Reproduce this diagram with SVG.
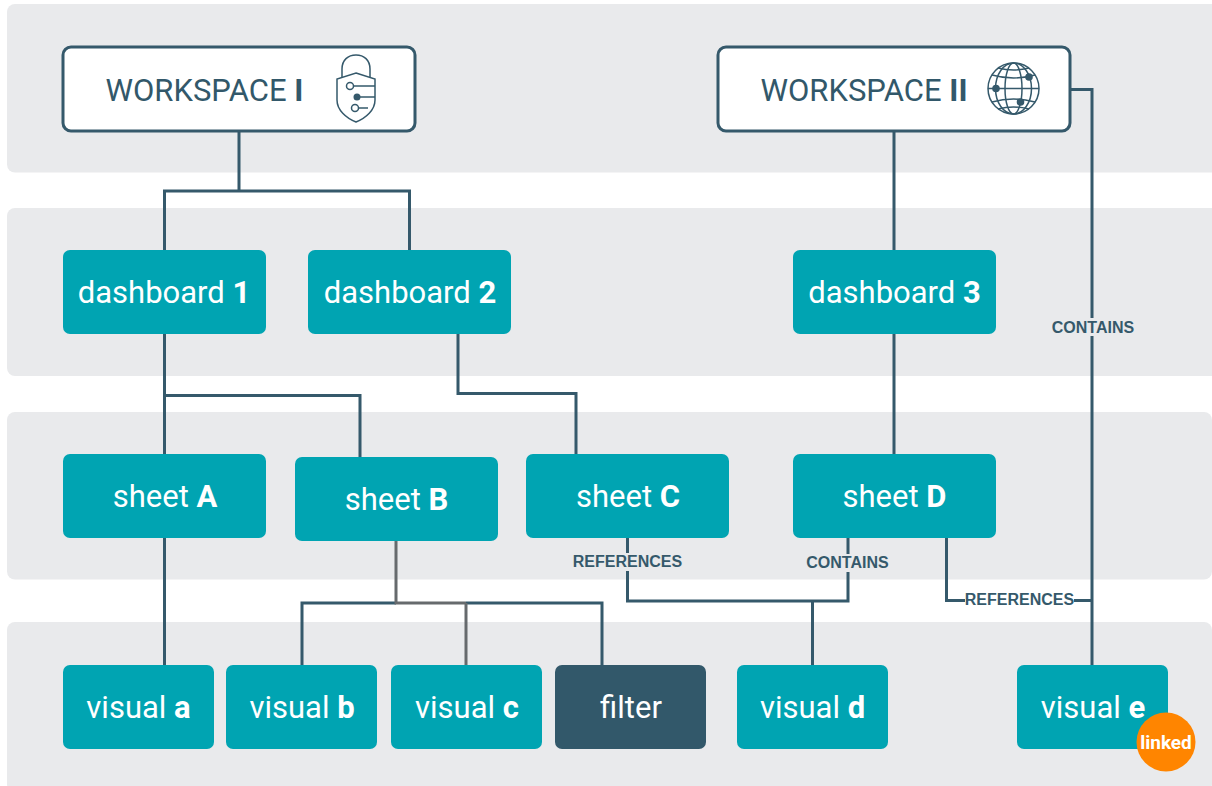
<svg xmlns="http://www.w3.org/2000/svg" width="1212" height="786" viewBox="0 0 1212 786">
<style>
.band{fill:#e9eaec}
.n{fill:#00a4b2}
.f{fill:#32586a}
.t{font-family:Roboto,"Liberation Sans",sans-serif;font-size:31px;fill:#fff;text-anchor:middle}
.t tspan,.w tspan{font-weight:700}
.w{font-family:Roboto,"Liberation Sans",sans-serif;font-size:31px;fill:#32586a}
.box{fill:#fff;stroke:#35596b;stroke-width:3}
.c{fill:none;stroke:#35596b;stroke-width:3}
.g{fill:none;stroke:#666a6d;stroke-width:3}
.l{font-family:"Liberation Sans",Arial,sans-serif;font-size:16px;font-weight:700;fill:#35596b;text-anchor:middle}
.i{fill:none;stroke:#35596b;stroke-width:1.500}
.d{fill:#35596b}
</style>
<rect width="1212" height="786" fill="#fff"/>
<g id="bands">
<rect class="band" x="7" y="4" width="1215" height="168.500" rx="8"/>
<rect class="band" x="7" y="208" width="1215" height="168" rx="8"/>
<rect class="band" x="7" y="412" width="1205" height="167.500" rx="8"/>
<rect class="band" x="7" y="622" width="1205" height="170" rx="8"/>
</g>
<g id="connectors">
<path class="c" d="M239 131V191M164.500 250V191H409.500V250"/>
<path class="c" d="M894 131V250M894 333V454"/>
<path class="c" d="M1071 89.500H1092V665"/>
<path class="c" d="M164.500 333V454M164.500 395.500H360V457"/>
<path class="c" d="M458 333V393.500H576V454"/>
<path class="c" d="M164.500 537V665"/>
<path class="c" d="M302 665V603H396M466 603H602V665"/>
<path class="g" d="M396 541V603H466" stroke-width="4"/>
<path class="g" d="M466 603V665"/>
<path class="c" d="M627.500 537V601H848V537M812.500 601V665"/>
<path class="c" d="M946.500 537V600.500H1092"/>
<rect class="band" x="1052" y="318" width="82" height="18"/>
<text class="l" x="1093" y="332.500">CONTAINS</text>
<rect class="band" x="573" y="553" width="109" height="18"/>
<text class="l" x="627.500" y="566.700">REFERENCES</text>
<rect class="band" x="807" y="554" width="82" height="18"/>
<text class="l" x="847.500" y="568">CONTAINS</text>
<rect x="965" y="590" width="109" height="18" fill="#fff"/>
<text class="l" x="1019.500" y="604.500">REFERENCES</text>
</g>
<g id="workspace1">
<rect class="box" x="63" y="47" width="352" height="84" rx="8"/>
<text class="w" x="105.500" y="101">WORKSPACE <tspan>I</tspan></text>
<path class="i" d="M342 77V69C342 60 348 55 356 55S370 60 370 69V77"/>
<path class="i" d="M356 73L375 79V100C375 110 366 118 356 122C346 118 337 110 337 100V79Z"/>
<path class="i" d="M353.500 86H375M357 97H375M358.500 108H368"/>
<circle class="i" cx="350" cy="86" r="3.500"/>
<circle class="d" cx="357" cy="97" r="3.500"/>
<circle class="i" cx="355" cy="108" r="3.500"/>
</g>
<g id="workspace2">
<rect class="box" x="718" y="47" width="352" height="84" rx="8"/>
<text class="w" x="760.500" y="101">WORKSPACE <tspan>II</tspan></text>
<circle class="i" cx="1013.500" cy="88.500" r="25.500"/>
<ellipse class="i" cx="1013.500" cy="88.500" rx="8.500" ry="25.500"/>
<ellipse class="i" cx="1013.500" cy="88.500" rx="18" ry="25.500"/>
<path class="i" d="M988 88.500H1039M992 75Q1013.500 81 1035 75M992 102Q1013.500 96 1035 102M998 68Q1013.500 72 1029 68M998 109Q1013.500 105 1029 109"/>
<circle class="d" cx="996" cy="88.500" r="3.800"/>
<circle class="d" cx="1029" cy="77" r="3.800"/>
<circle class="d" cx="1020.500" cy="102" r="3.800"/>
</g>
<g id="dashboard1"><rect class="n" x="63" y="250" width="203" height="84" rx="7"/><text class="t" x="164" y="303">dashboard <tspan>1</tspan></text></g>
<g id="dashboard2"><rect class="n" x="308" y="250" width="203" height="84" rx="7"/><text class="t" x="410" y="303">dashboard <tspan>2</tspan></text></g>
<g id="dashboard3"><rect class="n" x="793" y="250" width="203" height="84" rx="7"/><text class="t" x="894.500" y="303">dashboard <tspan>3</tspan></text></g>
<g id="sheetA"><rect class="n" x="63" y="454" width="203" height="84" rx="7"/><text class="t" x="165" y="507">sheet <tspan>A</tspan></text></g>
<g id="sheetB"><rect class="n" x="295" y="457" width="203" height="84" rx="7"/><text class="t" x="396.500" y="510">sheet <tspan>B</tspan></text></g>
<g id="sheetC"><rect class="n" x="526" y="454" width="203" height="84" rx="7"/><text class="t" x="628" y="507">sheet <tspan>C</tspan></text></g>
<g id="sheetD"><rect class="n" x="793" y="454" width="203" height="84" rx="7"/><text class="t" x="894.500" y="507">sheet <tspan>D</tspan></text></g>
<g id="visualA"><rect class="n" x="63" y="665" width="151" height="84" rx="7"/><text class="t" x="138.500" y="718">visual <tspan>a</tspan></text></g>
<g id="visualB"><rect class="n" x="226" y="665" width="151" height="84" rx="7"/><text class="t" x="302" y="718">visual <tspan>b</tspan></text></g>
<g id="visualC"><rect class="n" x="391" y="665" width="151" height="84" rx="7"/><text class="t" x="467" y="718">visual <tspan>c</tspan></text></g>
<g id="filter"><rect class="f" x="555" y="665" width="151" height="84" rx="7"/><text class="t" x="631" y="718">filter</text></g>
<g id="visualD"><rect class="n" x="737" y="665" width="151" height="84" rx="7"/><text class="t" x="812.500" y="718">visual <tspan>d</tspan></text></g>
<g id="visualE"><rect class="n" x="1017" y="665" width="151" height="84" rx="7"/><text class="t" x="1093" y="718">visual <tspan>e</tspan></text>
<circle cx="1166" cy="742" r="29.500" fill="#ff8500"/>
<text x="1166" y="749" font-family="Roboto,'Liberation Sans',sans-serif" font-size="19" font-weight="700" fill="#fff" text-anchor="middle">linked</text></g>
</svg>
